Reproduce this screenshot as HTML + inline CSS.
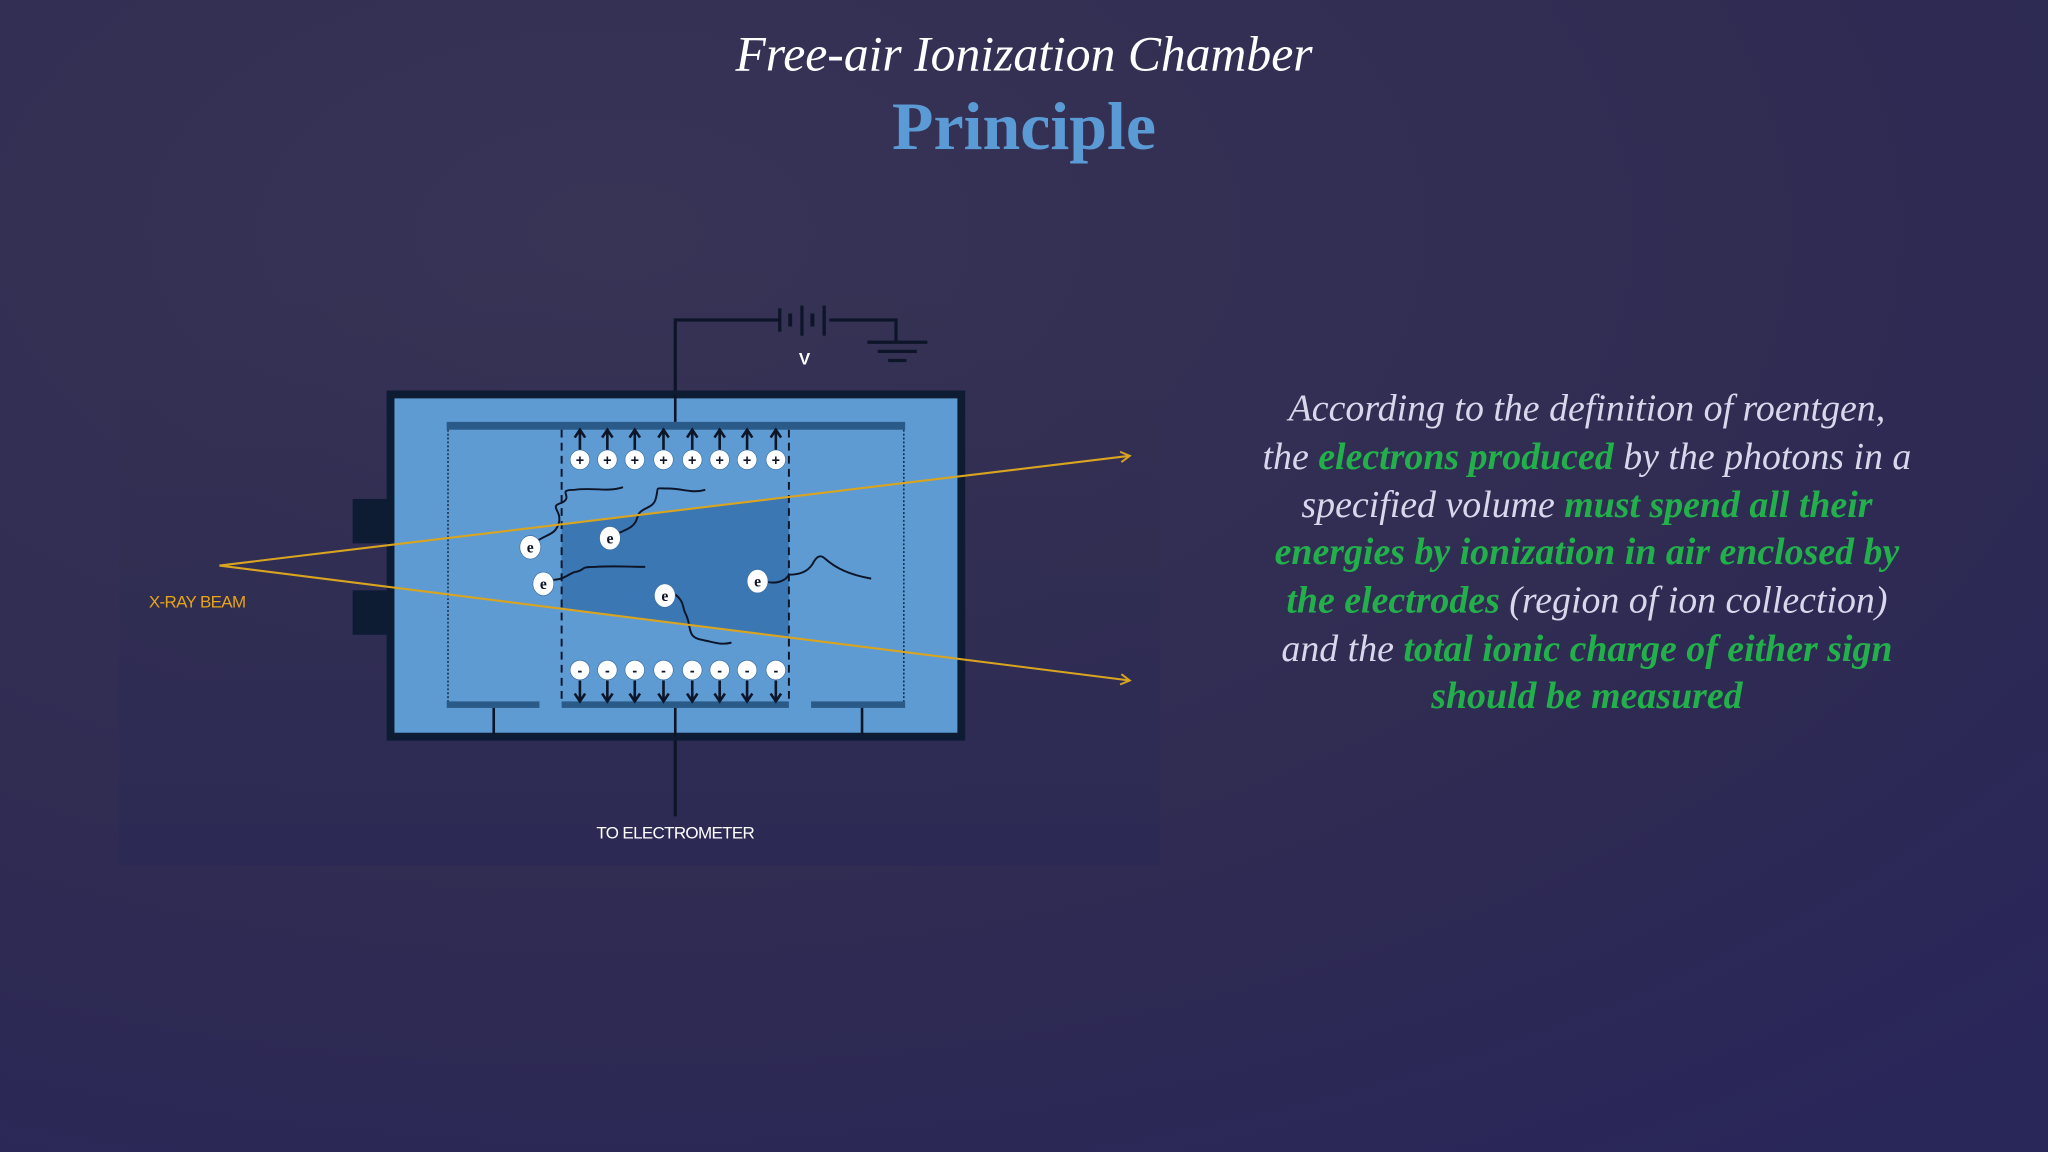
<!DOCTYPE html>
<html><head><meta charset="utf-8"><style>
html,body{margin:0;padding:0;}
body{width:2048px;height:1152px;overflow:hidden;background:#2f2b50;}
svg{display:block;}
</style></head><body>
<svg width="2048" height="1152" viewBox="0 0 1568 882" xmlns="http://www.w3.org/2000/svg">
<defs>
<radialGradient id="bg" cx="0.3" cy="0.2" r="1">
<stop offset="0" stop-color="#383456"/><stop offset="0.6" stop-color="#2f2b52"/><stop offset="1" stop-color="#29265a"/>
</radialGradient>
<linearGradient id="panel" x1="0" y1="0" x2="0" y2="1">
<stop offset="0" stop-color="#33304f" stop-opacity="0"/><stop offset="1" stop-color="#2c2a55"/>
</linearGradient>
<marker id="ah" markerWidth="10" markerHeight="10" refX="8" refY="5" orient="auto" markerUnits="userSpaceOnUse">
<path d="M1,1 L8,5 L1,9" fill="none" stroke="#d9a520" stroke-width="1.5"/>
</marker>
</defs>
<rect width="1568" height="882" fill="url(#bg)"/>
<rect x="91" y="200" width="797" height="463" fill="url(#panel)"/>

<text x="784" y="54" text-anchor="middle" font-family="Liberation Serif, serif" font-style="italic" font-size="38" fill="#ffffff">Free-air Ionization Chamber</text>
<text x="784" y="114" text-anchor="middle" font-family="Liberation Serif, serif" font-weight="bold" font-size="52" fill="#5b9bd5">Principle</text>

<!-- circuit -->
<g stroke="#0d1629" stroke-width="2.5" fill="none">
<path d="M517,323 V245 H597"/>
<path d="M635,245 H686 V262"/>
<line x1="597" y1="236" x2="597" y2="254"/>
<line x1="605" y1="240" x2="605" y2="250" stroke-width="3"/>
<line x1="614" y1="234" x2="614" y2="257"/>
<line x1="622" y1="240" x2="622" y2="250" stroke-width="3"/>
<line x1="631" y1="234" x2="631" y2="257"/>
<line x1="664" y1="262" x2="710" y2="262"/>
<line x1="672" y1="269" x2="702" y2="269"/>
<line x1="680" y1="276" x2="694" y2="276"/>
<path d="M517,539 V625"/>
</g>
<text x="616" y="279" text-anchor="middle" font-family="Liberation Sans, sans-serif" font-weight="bold" font-size="13" fill="#ffffff">V</text>

<!-- chamber -->
<rect x="270" y="382" width="30" height="34" fill="#0d1b33"/>
<rect x="270" y="452" width="30" height="34" fill="#0d1b33"/>
<rect x="299" y="302" width="437" height="262" fill="#5e9bd3" stroke="#0d1b33" stroke-width="6"/>
<polygon points="430,401 604,380 604,488 430,466" fill="#3a77b3"/>
<rect x="342" y="323" width="351" height="6" fill="#2a5a88"/>
<rect x="342" y="537" width="71" height="5" fill="#2a5a88"/>
<rect x="430" y="537" width="174" height="5" fill="#2a5a88"/>
<rect x="621" y="537" width="72" height="5" fill="#2a5a88"/>
<g stroke="#0d1629" fill="none">
<line x1="430" y1="329" x2="430" y2="537" stroke-dasharray="6,4" stroke-width="1.5"/>
<line x1="604" y1="329" x2="604" y2="537" stroke-dasharray="6,4" stroke-width="1.5"/>
<line x1="343" y1="329" x2="343" y2="537" stroke-dasharray="1.5,1.5" stroke-width="1"/>
<line x1="692" y1="329" x2="692" y2="537" stroke-dasharray="1.5,1.5" stroke-width="1"/>
<line x1="517" y1="302" x2="517" y2="323" stroke-width="2"/>
<line x1="378" y1="542" x2="378" y2="562" stroke-width="2"/>
<line x1="660" y1="542" x2="660" y2="562" stroke-width="2"/>
<line x1="517" y1="542" x2="517" y2="564" stroke-width="2"/>
</g>
<!-- arrows and ions -->
<g stroke="#0d1629" stroke-width="2" fill="none">
<path d="M444,345 V330 M440,335 L444,329 L448,335"/>
<path d="M465,345 V330 M461,335 L465,329 L469,335"/>
<path d="M486,345 V330 M482,335 L486,329 L490,335"/>
<path d="M508,345 V330 M504,335 L508,329 L512,335"/>
<path d="M530,345 V330 M526,335 L530,329 L534,335"/>
<path d="M551,345 V330 M547,335 L551,329 L555,335"/>
<path d="M572,345 V330 M568,335 L572,329 L576,335"/>
<path d="M594,345 V330 M590,335 L594,329 L598,335"/>
<path d="M444,521 V536 M440,531 L444,537 L448,531"/>
<path d="M465,521 V536 M461,531 L465,537 L469,531"/>
<path d="M486,521 V536 M482,531 L486,537 L490,531"/>
<path d="M508,521 V536 M504,531 L508,537 L512,531"/>
<path d="M530,521 V536 M526,531 L530,537 L534,531"/>
<path d="M551,521 V536 M547,531 L551,537 L555,531"/>
<path d="M572,521 V536 M568,531 L572,537 L576,531"/>
<path d="M594,521 V536 M590,531 L594,537 L598,531"/>
</g>
<g fill="#ffffff" stroke="#3a6fa8" stroke-width="0.5">
<circle cx="444" cy="352" r="7.5"/><circle cx="465" cy="352" r="7.5"/><circle cx="486" cy="352" r="7.5"/><circle cx="508" cy="352" r="7.5"/><circle cx="530" cy="352" r="7.5"/><circle cx="551" cy="352" r="7.5"/><circle cx="572" cy="352" r="7.5"/><circle cx="594" cy="352" r="7.5"/>
<circle cx="444" cy="513" r="7.5"/><circle cx="465" cy="513" r="7.5"/><circle cx="486" cy="513" r="7.5"/><circle cx="508" cy="513" r="7.5"/><circle cx="530" cy="513" r="7.5"/><circle cx="551" cy="513" r="7.5"/><circle cx="572" cy="513" r="7.5"/><circle cx="594" cy="513" r="7.5"/>
</g>
<g font-family="Liberation Sans, sans-serif" font-weight="bold" font-size="11" fill="#0d1629" text-anchor="middle">
<text x="444" y="356">+</text><text x="465" y="356">+</text><text x="486" y="356">+</text><text x="508" y="356">+</text><text x="530" y="356">+</text><text x="551" y="356">+</text><text x="572" y="356">+</text><text x="594" y="356">+</text>
<text x="444" y="517">-</text><text x="465" y="517">-</text><text x="486" y="517">-</text><text x="508" y="517">-</text><text x="530" y="517">-</text><text x="551" y="517">-</text><text x="572" y="517">-</text><text x="594" y="517">-</text>
</g>
<!-- electron tracks -->
<g stroke="#0d1629" stroke-width="1.5" fill="none">
<path d="M410,415 C420,408 425,410 428,400 C430,390 420,388 430,385 C440,380 425,375 440,375 C455,373 465,377 477,373"/>
<path d="M472,409 C480,405 486,404 488,396 C490,388 500,390 502,382 C505,372 500,374 512,374 C522,374 530,378 540,375"/>
<path d="M422,444 C432,444 434,440 440,438 C450,436 442,434 456,434 C470,433 480,434 494,434"/>
<path d="M514,453 C525,460 522,465 525,470 C530,480 525,488 538,490 C548,492 552,494 560,492"/>
<path d="M585,445 C595,448 602,444 604,440 C612,440 618,438 622,432 C625,426 628,424 632,428 C640,435 650,440 667,443"/>
</g>
<g fill="#ffffff" stroke="#3a6fa8" stroke-width="0.5">
<ellipse cx="406" cy="419" rx="8" ry="9"/><ellipse cx="467" cy="412" rx="8" ry="9"/><ellipse cx="416" cy="447" rx="8" ry="9"/><ellipse cx="509" cy="456" rx="8" ry="9"/><ellipse cx="580" cy="445" rx="8" ry="9"/>
</g>
<g font-family="Liberation Serif, serif" font-weight="bold" font-size="12" fill="#0d1629" text-anchor="middle">
<text x="406" y="423">e</text><text x="467" y="416">e</text><text x="416" y="451">e</text><text x="509" y="460">e</text><text x="580" y="449">e</text>
</g>
<!-- beam -->
<line x1="168" y1="433" x2="865" y2="349" stroke="#d9a520" stroke-width="1.6" marker-end="url(#ah)"/>
<line x1="168" y1="433" x2="865" y2="521" stroke="#d9a520" stroke-width="1.6" marker-end="url(#ah)"/>
<text x="114" y="465" font-family="Liberation Sans, sans-serif" font-size="13" fill="#e8a317" letter-spacing="-0.5">X-RAY BEAM</text>
<text x="517" y="642" text-anchor="middle" font-family="Liberation Sans, sans-serif" font-size="13" fill="#ffffff" letter-spacing="-0.5">TO ELECTROMETER</text>

<!-- right text -->
<g font-family="Liberation Serif, serif" font-style="italic" font-size="29" fill="#d8d8ec" text-anchor="middle">
<text x="1215" y="322">According to the definition of roentgen,</text>
<text x="1215" y="359">the <tspan fill="#22b04b" font-weight="bold">electrons produced</tspan> by the photons in a</text>
<text x="1215" y="396">specified volume <tspan fill="#22b04b" font-weight="bold">must spend all their</tspan></text>
<text x="1215" y="432" fill="#22b04b" font-weight="bold">energies by ionization in air enclosed by</text>
<text x="1215" y="469"><tspan fill="#22b04b" font-weight="bold">the electrodes</tspan> (region of ion collection)</text>
<text x="1215" y="506">and the <tspan fill="#22b04b" font-weight="bold">total ionic charge of either sign</tspan></text>
<text x="1215" y="542" fill="#22b04b" font-weight="bold">should be measured</text>
</g>
</svg>
</body></html>
